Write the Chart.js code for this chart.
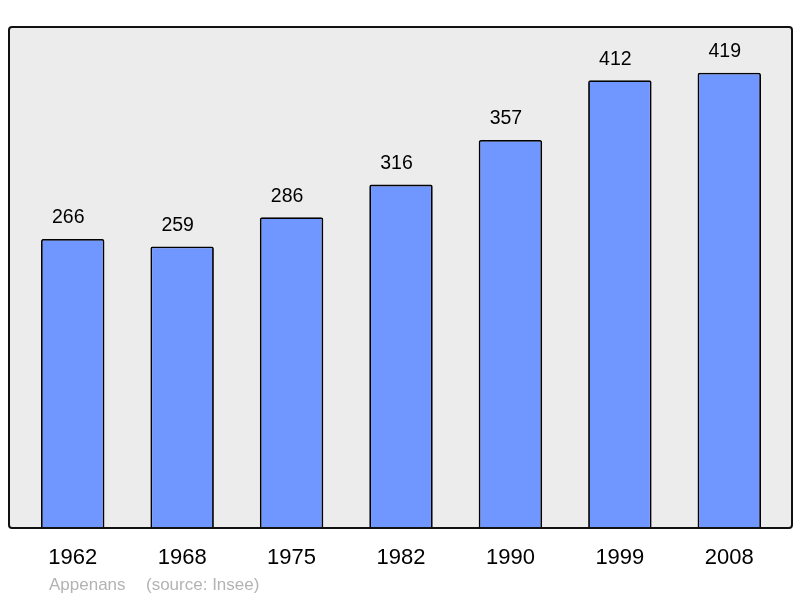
<!DOCTYPE html>
<html>
<head>
<meta charset="utf-8">
<script src="https://cdn.jsdelivr.net/npm/chart.js@4/dist/chart.umd.min.js"></script>
<style>
  html, body { margin: 0; padding: 0; background: #fff; }
  #wrap { width: 800px; height: 598px; }
</style>
</head>
<body>
<div id="wrap"><canvas id="myChart" width="800" height="598"></canvas></div>
<script>
const years = ['1962', '1968', '1975', '1982', '1990', '1999', '2008'];
const population = [266, 259, 286, 316, 357, 412, 419];
const commune = 'Appenans';
const source = '(source: Insee)';

// frame, value labels, year labels and footer
const decor = {
  id: 'decor',
  beforeDraw(chart) {
    const { ctx, chartArea: a } = chart;
    ctx.save();
    const x0 = a.left - 9, x1 = a.right + 8, y0 = a.top, y1 = a.bottom;
    ctx.fillStyle = '#ececec';
    ctx.fillRect(x0, y0, x1 - x0, y1 - y0);
    ctx.restore();
  },
  afterDatasetsDraw(chart) {
    const { ctx, chartArea: a } = chart;
    const xs = chart.scales.x;
    const meta = chart.getDatasetMeta(0);
    ctx.save();
    const x0 = a.left - 9, x1 = a.right + 8, y0 = a.top, y1 = a.bottom;
    ctx.strokeStyle = '#111';
    ctx.lineWidth = 2;
    ctx.beginPath();
    ctx.roundRect(x0, y0, x1 - x0, y1 - y0, 3);
    ctx.stroke();

    ctx.fillStyle = '#000';
    ctx.textAlign = 'center';
    ctx.textBaseline = 'middle';
    ctx.font = '19.5px "Liberation Sans", Arial, sans-serif';
    meta.data.forEach((bar, i) => {
      ctx.fillText(String(population[i]), bar.x - 4.5, bar.y - 21);
    });
    ctx.font = '22px "Liberation Sans", Arial, sans-serif';
    years.forEach((y, i) => {
      ctx.fillText(y, xs.getPixelForValue(i), 557.5);
    });
    ctx.fillStyle = '#b3b3b3';
    ctx.textAlign = 'left';
    ctx.font = '17px "Liberation Sans", Arial, sans-serif';
    ctx.fillText(commune, 49, 585);
    ctx.fillText(source, 146, 585);
    ctx.restore();
  }
};

const myChart = new Chart(document.getElementById('myChart'), {
  type: 'bar',
  data: {
    labels: years,
    datasets: [{
      data: population,
      backgroundColor: '#7096ff',
      borderColor: '#000',
      borderWidth: 1.8,
      borderSkipped: 'bottom',
      borderRadius: 2,
      categoryPercentage: 1,
      barPercentage: 0.58
    }]
  },
  options: {
    responsive: false,
    animation: false,
    layout: { padding: { left: 18, right: 16, top: 27, bottom: 70 } },
    plugins: { legend: { display: false }, tooltip: { enabled: false } },
    scales: {
      x: { display: false },
      y: { display: false, min: 0, max: 461 }
    }
  },
  plugins: [decor]
});
</script>
</body>
</html>
